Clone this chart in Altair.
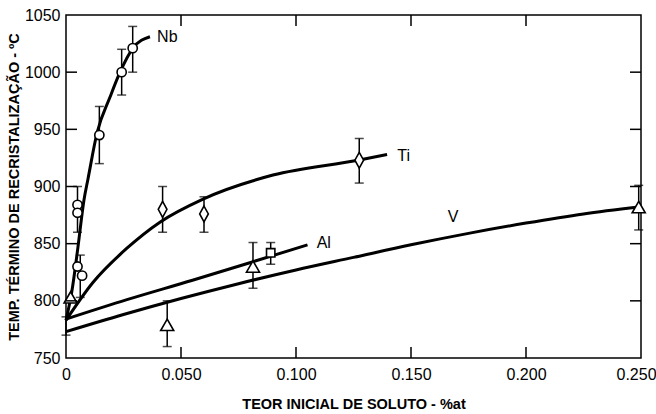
import altair as alt
import pandas as pd

# ---------------- data ----------------
# fitted curves
nb_x = [0.0, 0.0026, 0.0052, 0.0078, 0.0096, 0.0135, 0.0191, 0.0235, 0.0291, 0.0365]
nb_y = [783, 809, 847, 888, 907, 947, 978, 1000, 1021, 1031]
ti_x = [0.0, 0.0117, 0.0265, 0.041, 0.0596, 0.09, 0.127, 0.1396]
ti_y = [783, 816, 846, 869, 889, 910, 923, 928]
al_x = [0.0, 0.0265, 0.055, 0.081, 0.105]
al_y = [784, 801, 818, 834, 849]
v_x = [0.0, 0.025, 0.05, 0.075, 0.1, 0.125, 0.15, 0.175, 0.2, 0.225, 0.249]
v_y = [773, 788, 802, 815, 827, 838, 849, 859, 868, 876, 882]

# measured points
nb_pt_x = [0.005, 0.005, 0.005, 0.007, 0.0145, 0.0242, 0.029]
nb_pt_y = [884, 877, 830, 822, 945, 1000, 1021]
ti_pt_x = [0.042, 0.060, 0.1275]
ti_pt_y = [880, 876, 923]
tri_pt_x = [0.002, 0.044, 0.0813, 0.249]
tri_pt_y = [803, 779, 830, 882]
al_pt_x = [0.089]
al_pt_y = [842]

# error bars
eb_x = [0.005, 0.0062, 0.0145, 0.0242, 0.029, 0.042, 0.060, 0.1275,
        0.044, 0.0813, 0.249, 0.089, 0.0]
eb_lo = [860, 803, 920, 980, 1000, 860, 860, 903, 760, 811, 862, 832, 770]
eb_hi = [900, 840, 970, 1020, 1040, 900, 891, 942, 800, 851, 901, 851, 786]

# curve labels
lab_text = ["Nb", "Ti", "Al", "V"]
lab_x = [0.0396, 0.144, 0.109, 0.166]
lab_y = [1031, 927, 851, 873]

x_ticks = [0.05, 0.10, 0.15, 0.20]
y_ticks = [800, 850, 900, 950, 1000]
x_labels = [0, 0.05, 0.10, 0.15, 0.20, 0.25]
y_labels = [750, 800, 850, 900, 950, 1000, 1050]

W, H = 575, 343
LABEL_FONT = "Liberation Sans Narrow, Liberation Sans, Arial"
TITLE_FONT = "Liberation Sans, Arial"

curves = pd.concat([
    pd.DataFrame({"x": nb_x, "y": nb_y, "s": "Nb"}),
    pd.DataFrame({"x": ti_x, "y": ti_y, "s": "Ti"}),
    pd.DataFrame({"x": al_x, "y": al_y, "s": "Al"}),
    pd.DataFrame({"x": v_x, "y": v_y, "s": "V"}),
])
errs = pd.DataFrame({"x": eb_x, "y": eb_lo, "y2": eb_hi})
errs_hi = pd.DataFrame({"x": eb_x, "y": eb_hi})
labels = pd.DataFrame({"x": lab_x, "y": lab_y, "t": lab_text})
xt = pd.DataFrame({"x": x_ticks})
yt = pd.DataFrame({"y": y_ticks})

xs = alt.Scale(domain=[0, 0.25], nice=False, zero=False)
ys = alt.Scale(domain=[750, 1050], nice=False, zero=False)

x_axis = alt.Axis(
    values=x_labels,
    labelExpr="datum.value == 0 ? '0' : format(datum.value, '.3f')",
    ticks=False, domain=False, grid=False, labelFlush=False,
    labelPadding=8, labelFont=LABEL_FONT, labelFontSize=16, labelColor="black",
    labelOffset={"condition": {"test": "datum.value >= 0.25", "value": -5}, "value": 0},
    title="TEOR INICIAL DE SOLUTO - %at",
    titleFont=TITLE_FONT, titleFontSize=14.5, titleFontWeight="bold", titleColor="black",
    titleY=46, titleBaseline="middle",
)
y_axis = alt.Axis(
    values=y_labels, format="d", ticks=False, domain=False, grid=False,
    labelPadding=6, labelFont=LABEL_FONT, labelFontSize=16, labelColor="black",
    title="TEMP. TÉRMINO DE RECRISTALIZAÇÃO - ºC",
    titleFont=TITLE_FONT, titleFontSize=14.5, titleFontWeight="bold", titleColor="black",
    titleX=-52, titleY=H / 2, titleAngle=270, titleAlign="center", titleBaseline="middle",
)

X = alt.X("x:Q", scale=xs, axis=x_axis)
Y = alt.Y("y:Q", scale=ys, axis=y_axis)

lines = alt.Chart(curves).mark_line(
    color="black", strokeWidth=3, interpolate="monotone"
).encode(x=X, y=Y, detail="s:N")

bars = alt.Chart(errs).mark_rule(color="black", strokeWidth=1.5).encode(
    x=X, y=Y, y2="y2:Q")
caps_lo = alt.Chart(errs).mark_tick(
    color="black", thickness=1.5, size=9, orient="horizontal").encode(x=X, y=Y)
caps_hi = alt.Chart(errs_hi).mark_tick(
    color="black", thickness=1.5, size=9, orient="horizontal").encode(x=X, y=Y)

pt_style = dict(filled=True, fill="white", stroke="black", strokeWidth=1.6, opacity=1)


def pts(xv, yv, shape, size):
    return alt.Chart(pd.DataFrame({"x": xv, "y": yv})).mark_point(
        shape=shape, size=size, **pt_style).encode(x=X, y=Y)


m_nb = pts(nb_pt_x, nb_pt_y, "circle", 85)
m_ti = pts(ti_pt_x, ti_pt_y, "M0,-1L0.55,0L0,1L-0.55,0Z", 250)
m_tri = pts(tri_pt_x, tri_pt_y, "triangle-up", 170)
m_al = pts(al_pt_x, al_pt_y, "square", 70)

texts = alt.Chart(labels).mark_text(
    align="left", baseline="middle", font=LABEL_FONT, fontSize=16, color="black"
).encode(x=X, y=Y, text="t:N")

tick_style = dict(color="black", strokeWidth=1.5)
t_left = alt.Chart(yt).mark_rule(**tick_style).encode(
    y=Y, x=alt.value(0), x2=alt.value(11))
t_right = alt.Chart(yt).mark_rule(**tick_style).encode(
    y=Y, x=alt.value(W - 11), x2=alt.value(W))
t_bottom = alt.Chart(xt).mark_rule(**tick_style).encode(
    x=X, y=alt.value(H - 11), y2=alt.value(H))
t_top = alt.Chart(xt).mark_rule(**tick_style).encode(
    x=X, y=alt.value(0), y2=alt.value(11))

chart = alt.layer(
    lines, bars, caps_lo, caps_hi, m_nb, m_ti, m_tri, m_al, texts,
    t_left, t_right, t_bottom, t_top
).properties(
    width=W, height=H,
    autosize=alt.AutoSizeParams(type="none"),
    padding={"left": 66, "top": 15, "right": 15, "bottom": 56},
    background="white",
).configure_view(
    stroke="black", strokeWidth=1.5
)

chart.save("out.html", embed_options={"renderer": "svg", "actions": False})
